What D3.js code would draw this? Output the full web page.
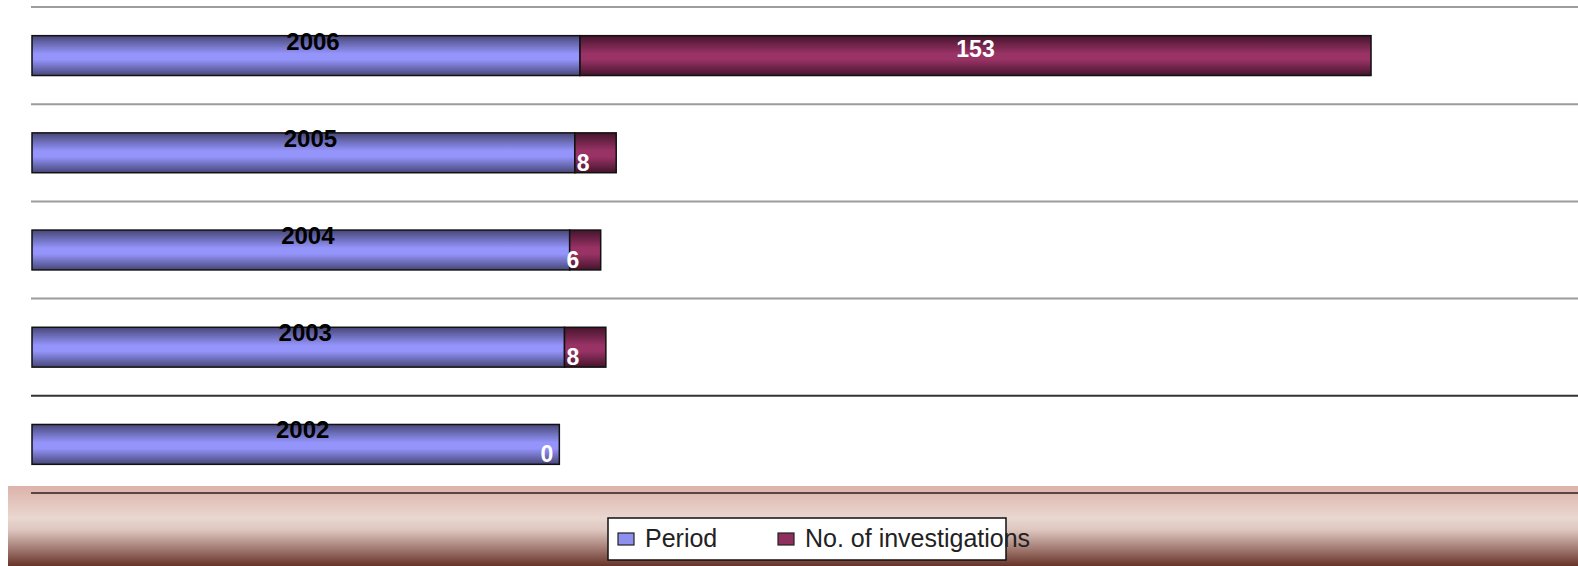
<!DOCTYPE html>
<meta charset="utf-8">
<style>
  body { margin: 0; background: #fff; }
  text { font-family: "Liberation Sans", Arial, sans-serif; }
  .cat { font-weight: bold; font-size: 24px; fill: #000; }
  .val { font-weight: bold; font-size: 23px; fill: #fff; }
  .leg { font-size: 25px; fill: #222; }
</style>
<body>
<script src="https://cdn.jsdelivr.net/npm/d3@7"></script>
<script>
  var width = 1578,
    height = 566;

  // data
  var categories = ["2006", "2005", "2004", "2003", "2002"];
  var period = [2006, 2005, 2004, 2003, 2002];
  var investigations = [153, 8, 6, 8, 0];
  var seriesNames = ["Period", "No. of investigations"];

  var svg = d3.select("body").append("svg")
    .attr("width", width)
    .attr("height", height)

  var defs = svg.append("defs")

  /* vertical shaded gradients for the bars */
  function barGrad(id, edge, mid) {
    var g = defs.append("linearGradient").attr("id", id)
      .attr("x1", 0).attr("y1", 0).attr("x2", 0).attr("y2", 1)
    g.append("stop").attr("offset", "0%").attr("stop-color", edge)
    g.append("stop").attr("offset", "45%").attr("stop-color", mid)
    g.append("stop").attr("offset", "60%").attr("stop-color", mid)
    g.append("stop").attr("offset", "100%").attr("stop-color", edge)
  }
  barGrad("gPeriod", "#474778", "#9494fb")
  barGrad("gInv", "#45142c", "#993366")
  var colors = ["url(#gPeriod)", "url(#gInv)"];
  var swatch = ["#8f8ff0", "#8e2f5e"];

  var band = defs.append("linearGradient").attr("id", "gBand")
    .attr("x1", 0).attr("y1", 0).attr("x2", 0).attr("y2", 1)
  band.append("stop").attr("offset", "0%").attr("stop-color", "#ddb2aa")
  band.append("stop").attr("offset", "40%").attr("stop-color", "#e9d7d0")
  band.append("stop").attr("offset", "55%").attr("stop-color", "#ddc6bf")
  band.append("stop").attr("offset", "78%").attr("stop-color", "#a47c74")
  band.append("stop").attr("offset", "100%").attr("stop-color", "#673328")

  var x = d3.scaleLinear().domain([1900, 2200]).range([32, 1583])
  var y = d3.scaleBand().domain(categories).range([7, 493])
    .paddingInner(0.59).paddingOuter(0.295)

  /* legend band at the bottom */
  svg.append("rect")
    .attr("x", 8).attr("y", 486)
    .attr("width", width - 8).attr("height", height - 486)
    .attr("fill", "url(#gBand)")

  /* grid lines between the categories */
  var step = y.step();
  var gridY = categories.map(function(c) { return y(c) - y.paddingInner() * step / 2; })
    .concat([y.range()[1]]);
  svg.selectAll("line.grid")
    .data(gridY)
    .enter().append("line")
    .attr("class", "grid")
    .attr("x1", x.range()[0] - 1).attr("x2", width)
    .attr("y1", function(d) { return d; })
    .attr("y2", function(d) { return d; })
    .attr("stroke", function(d, i) { return i == 4 ? "#333" : (i == 5 ? "#5a4540" : "#9c9c9c"); })
    .attr("stroke-width", 2)

  /* stacked bars */
  var rows = categories.map(function(c, i) {
    return { cat: c, vals: [period[i], investigations[i]] };
  });

  var g = svg.selectAll("g.row")
    .data(rows)
    .enter().append("g")
    .attr("class", "row")
    .attr("transform", function(d) { return "translate(0," + y(d.cat) + ")"; })

  g.append("rect")
    .attr("x", x.range()[0])
    .attr("y", 0)
    .attr("width", function(d) { return x(d.vals[0]) - x.range()[0]; })
    .attr("height", y.bandwidth())
    .attr("fill", colors[0])
    .attr("stroke", "#111")
    .attr("stroke-width", 1.5)

  g.filter(function(d) { return d.vals[1] > 0; })
    .append("rect")
    .attr("x", function(d) { return x(d.vals[0]); })
    .attr("y", 0)
    .attr("width", function(d) { return x(d.vals[0] + d.vals[1]) - x(d.vals[0]); })
    .attr("height", y.bandwidth())
    .attr("fill", colors[1])
    .attr("stroke", "#111")
    .attr("stroke-width", 1.5)

  /* category label sitting on the top edge of the bar */
  g.append("text")
    .attr("class", "cat")
    .attr("x", function(d) { return (x.range()[0] + x(d.vals[0])) / 2 + 7; })
    .attr("y", 14)
    .attr("text-anchor", "middle")
    .text(function(d) { return d.cat; })

  /* value labels for the investigations segment */
  g.append("text")
    .attr("class", "val")
    .each(function(d) {
      var x0 = x(d.vals[0]), x1 = x(d.vals[0] + d.vals[1]);
      var el = d3.select(this);
      if (x1 - x0 > 60) {
        el.attr("x", (x0 + x1) / 2).attr("y", y.bandwidth() / 2 + 1)
          .attr("text-anchor", "middle")
      } else {
        el.attr("x", (x0 + x1) / 2 - 6).attr("y", y.bandwidth() - 2)
          .attr("text-anchor", "end")
      }
    })
    .text(function(d) { return d.vals[1]; })

  /* legend */
  var leg = svg.append("g").attr("transform", "translate(608,518)")
  leg.append("rect")
    .attr("width", 398).attr("height", 42)
    .attr("fill", "#fff").attr("stroke", "#111").attr("stroke-width", 1.5)
  var legX = [10, 170];
  var item = leg.selectAll("g.item")
    .data(seriesNames)
    .enter().append("g")
    .attr("class", "item")
    .attr("transform", function(d, i) { return "translate(" + legX[i] + ",0)"; })
  item.append("rect")
    .attr("x", 0).attr("y", 15).attr("width", 16).attr("height", 12)
    .attr("fill", function(d, i) { return swatch[i]; })
    .attr("stroke", "#222").attr("stroke-width", 1.2)
  item.append("text")
    .attr("class", "leg")
    .attr("x", 27).attr("y", 29)
    .text(function(d) { return d; })
</script>
</body>
